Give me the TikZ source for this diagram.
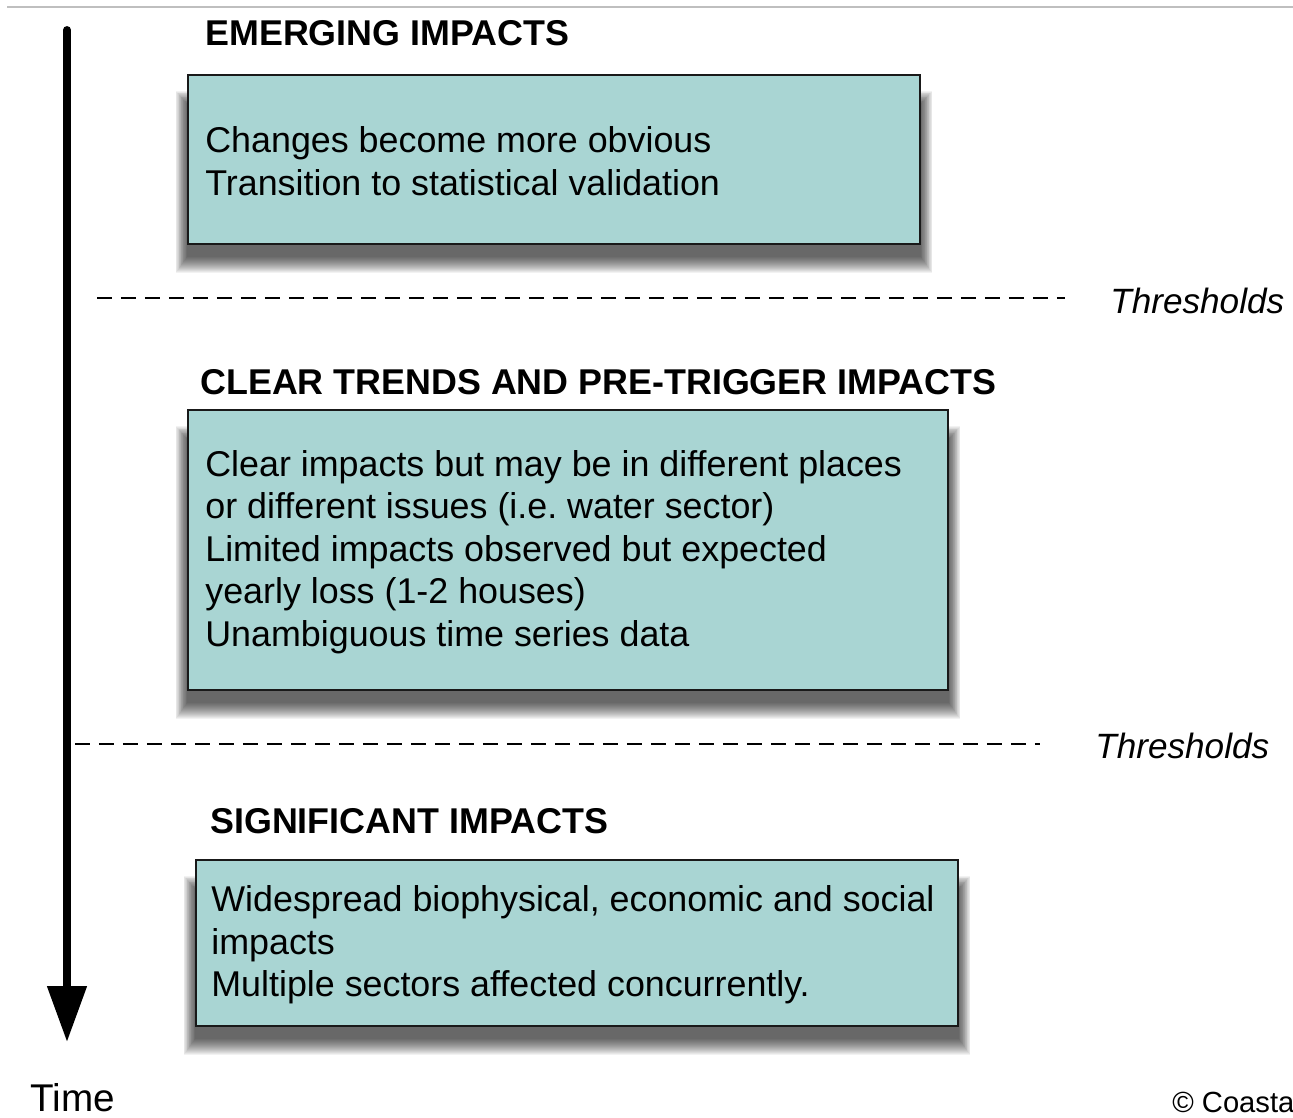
\documentclass[tikz,border=0pt]{standalone}
\usepackage{fontspec}
\setmainfont{Liberation Sans}
\usetikzlibrary{arrows.meta,backgrounds}
\definecolor{boxfill}{HTML}{A9D5D3}
\begin{document}
\begin{tikzpicture}[x=0.02cm,y=-0.02cm,
  impactbox/.style={draw=black!90,line width=1.3pt,fill=boxfill,inner sep=0pt,rectangle},
  bodytext/.style={anchor=west,align=left,inner sep=0pt,font=\fontsize{20.4}{24.2}\selectfont},
  titletext/.style={anchor=base west,inner sep=0pt,font=\fontsize{20.4}{24}\selectfont\bfseries},
  thresh/.style={anchor=base west,inner sep=0pt,font=\fontsize{20}{24}\selectfont\itshape},
  threshline/.style={dash pattern=on 0.3cm off 0.18cm,line width=1.6pt},
  boxshadow/.style={black,opacity=0.05}
]
\useasboundingbox (0,0) rectangle (1293,1117);

% top rule
\coordinate (topl) at (7,7);
\coordinate (topr) at (1293,7);
\draw[black!25,line width=0.6pt] (topl) -- (topr);

% time arrow
\coordinate (ts) at (67,30);
\coordinate (te) at (67,1042);
\draw[line width=4.5pt,line cap=round,-{Triangle[length=1.12cm,width=0.76cm]}] (ts) -- (te);
\node[anchor=base west,inner sep=0pt,font=\fontsize{22}{26}\selectfont] (time) at (30,1111) {Time};

% titles
\node[titletext] (h1) at (205,45) {EMERGING IMPACTS};
\node[titletext] (h2) at (200,394) {CLEAR TRENDS AND PRE-TRIGGER IMPACTS};
\node[titletext] (h3) at (210,833) {SIGNIFICANT IMPACTS};

% boxes
\node[impactbox,minimum width=14.64cm,minimum height=3.38cm] (b1) at (554,159.5) {};
\node[impactbox,minimum width=15.2cm,minimum height=5.6cm] (b2) at (568,550) {};
\node[impactbox,minimum width=15.24cm,minimum height=3.32cm] (b3) at (577,943) {};

\begin{scope}[on background layer]
\foreach \b in {b1,b2,b3}{
  \foreach \k in {0,...,16}{
    \fill[boxshadow] ([shift={(-0.7*\k,30-0.8*\k)}]\b.north west) rectangle ([shift={(0.7*\k,12+\k)}]\b.south east);
  }
}
\end{scope}

\node[bodytext] (t1) at (205,161) {Changes become more obvious\\Transition to statistical validation};
\node[bodytext] (t2) at (205,552) {Clear impacts but may be in different places\\or different issues (i.e.\ water sector)\\Limited impacts observed but expected\\yearly loss (1-2 houses)\\Unambiguous time series data};
\node[bodytext] (t3) at (211,945) {Widespread biophysical, economic and social\\impacts\\Multiple sectors affected concurrently.};

% thresholds
\coordinate (d1s) at (97,298);
\coordinate (d1e) at (1065,298);
\draw[threshline] (d1s) -- (d1e);
\node[thresh] (th1) at (1110,313) {Thresholds};

\coordinate (d2s) at (75,744);
\coordinate (d2e) at (1040,744);
\draw[threshline] (d2s) -- (d2e);
\node[thresh] (th2) at (1095,758) {Thresholds};

% copyright
\node[anchor=base west,inner sep=0pt,font=\fontsize{16.6}{20}\selectfont] (copy) at (1172,1112) {© Coasta};
\end{tikzpicture}
\end{document}
